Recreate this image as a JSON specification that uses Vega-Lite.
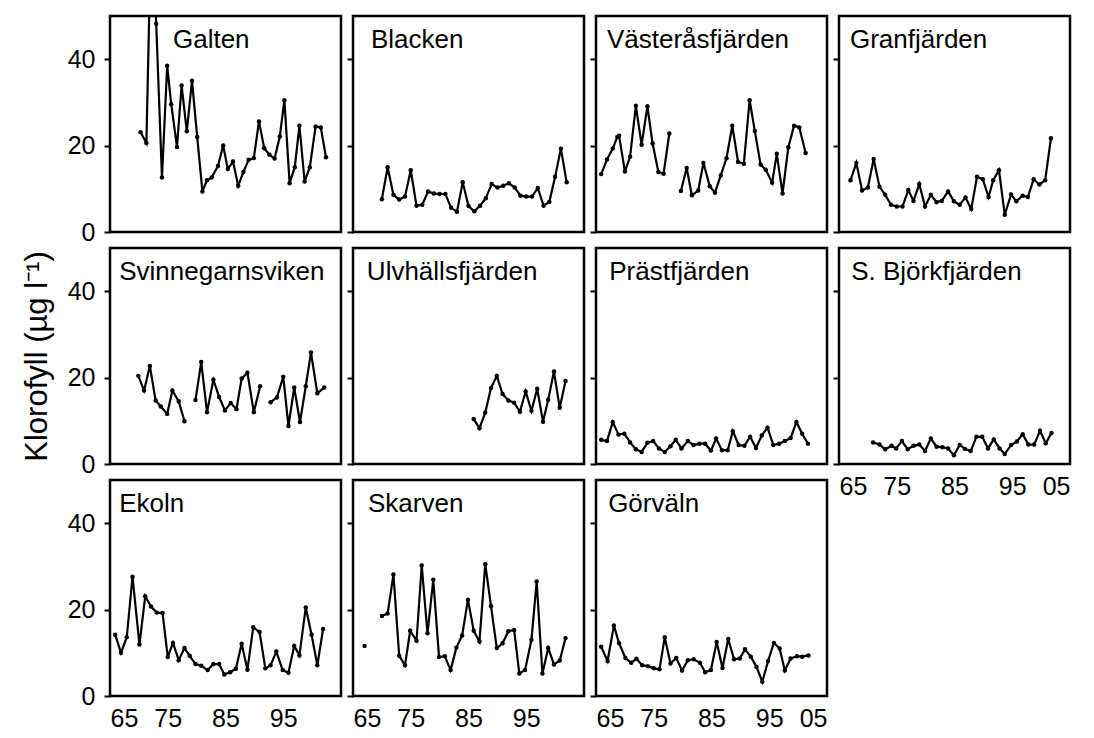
{
  "$schema": "https://vega.github.io/schema/vega-lite/v6.json",
  "background": "white",
  "padding": {"left": 19, "top": 14, "right": 5, "bottom": 5},
  "columns": 4,
  "spacing": {"row": 16, "column": 12},
  "bounds": "flush",
  "datasets": {
    "chl": [
      {"site":"Galten","year":70.3,"chl":23.1,"seg":1},{"site":"Galten","year":71.3,"chl":20.6,"seg":1},{"site":"Galten","year":72.2,"chl":75,"seg":1},{"site":"Galten","year":73.0,"chl":48.2,"seg":1},{"site":"Galten","year":74.0,"chl":12.6,"seg":1},{"site":"Galten","year":74.9,"chl":38.5,"seg":1},{"site":"Galten","year":75.6,"chl":29.6,"seg":1},{"site":"Galten","year":76.6,"chl":19.7,"seg":1},{"site":"Galten","year":77.4,"chl":33.9,"seg":1},{"site":"Galten","year":78.3,"chl":23.3,"seg":1},{"site":"Galten","year":79.2,"chl":35.0,"seg":1},{"site":"Galten","year":80.1,"chl":22.0,"seg":1},{"site":"Galten","year":81.0,"chl":9.4,"seg":1},{"site":"Galten","year":81.8,"chl":12.0,"seg":1},{"site":"Galten","year":82.6,"chl":12.6,"seg":1},{"site":"Galten","year":83.7,"chl":15.3,"seg":1},{"site":"Galten","year":84.6,"chl":20.0,"seg":1},{"site":"Galten","year":85.4,"chl":14.6,"seg":1},{"site":"Galten","year":86.3,"chl":16.3,"seg":1},{"site":"Galten","year":87.2,"chl":10.7,"seg":1},{"site":"Galten","year":88.1,"chl":13.9,"seg":1},{"site":"Galten","year":89.0,"chl":16.7,"seg":1},{"site":"Galten","year":89.9,"chl":17.1,"seg":1},{"site":"Galten","year":90.8,"chl":25.6,"seg":1},{"site":"Galten","year":91.7,"chl":19.4,"seg":1},{"site":"Galten","year":92.6,"chl":17.9,"seg":1},{"site":"Galten","year":93.5,"chl":17.0,"seg":1},{"site":"Galten","year":94.4,"chl":22.1,"seg":1},{"site":"Galten","year":95.2,"chl":30.5,"seg":1},{"site":"Galten","year":96.1,"chl":11.3,"seg":1},{"site":"Galten","year":97.0,"chl":15.0,"seg":1},{"site":"Galten","year":97.8,"chl":24.6,"seg":1},{"site":"Galten","year":98.7,"chl":11.7,"seg":1},{"site":"Galten","year":99.6,"chl":15.0,"seg":1},{"site":"Galten","year":100.6,"chl":24.4,"seg":1},{"site":"Galten","year":101.5,"chl":24.2,"seg":1},{"site":"Galten","year":102.4,"chl":17.3,"seg":1},

      {"site":"Blacken","year":70,"chl":7.6,"seg":1},{"site":"Blacken","year":71,"chl":15.0,"seg":1},{"site":"Blacken","year":72,"chl":8.6,"seg":1},{"site":"Blacken","year":73,"chl":7.5,"seg":1},{"site":"Blacken","year":74,"chl":8.2,"seg":1},{"site":"Blacken","year":75,"chl":14.3,"seg":1},{"site":"Blacken","year":76,"chl":6.1,"seg":1},{"site":"Blacken","year":77,"chl":6.3,"seg":1},{"site":"Blacken","year":78,"chl":9.4,"seg":1},{"site":"Blacken","year":79,"chl":8.9,"seg":1},{"site":"Blacken","year":80,"chl":8.8,"seg":1},{"site":"Blacken","year":81,"chl":8.8,"seg":1},{"site":"Blacken","year":82,"chl":5.6,"seg":1},{"site":"Blacken","year":83,"chl":4.7,"seg":1},{"site":"Blacken","year":84,"chl":11.5,"seg":1},{"site":"Blacken","year":85,"chl":6.0,"seg":1},{"site":"Blacken","year":86,"chl":4.8,"seg":1},{"site":"Blacken","year":87,"chl":6.1,"seg":1},{"site":"Blacken","year":88,"chl":7.8,"seg":1},{"site":"Blacken","year":89,"chl":11.1,"seg":1},{"site":"Blacken","year":90,"chl":10.3,"seg":1},{"site":"Blacken","year":91,"chl":10.7,"seg":1},{"site":"Blacken","year":92,"chl":11.3,"seg":1},{"site":"Blacken","year":93,"chl":10.3,"seg":1},{"site":"Blacken","year":94,"chl":8.4,"seg":1},{"site":"Blacken","year":95,"chl":8.2,"seg":1},{"site":"Blacken","year":96,"chl":8.2,"seg":1},{"site":"Blacken","year":97,"chl":10.2,"seg":1},{"site":"Blacken","year":98,"chl":6.1,"seg":1},{"site":"Blacken","year":99,"chl":7.0,"seg":1},{"site":"Blacken","year":100,"chl":12.8,"seg":1},{"site":"Blacken","year":101,"chl":19.3,"seg":1},{"site":"Blacken","year":102,"chl":11.5,"seg":1},

      {"site":"Västeråsfjärden","year":65.9,"chl":13.4,"seg":1},{"site":"Västeråsfjärden","year":66.9,"chl":16.8,"seg":1},{"site":"Västeråsfjärden","year":67.9,"chl":19.3,"seg":1},{"site":"Västeråsfjärden","year":68.7,"chl":22.0,"seg":1},{"site":"Västeråsfjärden","year":69.0,"chl":22.3,"seg":1},{"site":"Västeråsfjärden","year":70.0,"chl":14.0,"seg":1},{"site":"Västeråsfjärden","year":70.9,"chl":17.4,"seg":1},{"site":"Västeråsfjärden","year":71.9,"chl":29.2,"seg":1},{"site":"Västeråsfjärden","year":72.9,"chl":20.2,"seg":1},{"site":"Västeråsfjärden","year":73.9,"chl":29.1,"seg":1},{"site":"Västeråsfjärden","year":74.8,"chl":20.5,"seg":1},{"site":"Västeråsfjärden","year":75.8,"chl":13.9,"seg":1},{"site":"Västeråsfjärden","year":76.7,"chl":13.5,"seg":1},{"site":"Västeråsfjärden","year":77.7,"chl":22.8,"seg":1},
      {"site":"Västeråsfjärden","year":79.7,"chl":9.5,"seg":2},{"site":"Västeråsfjärden","year":80.7,"chl":14.8,"seg":2},{"site":"Västeråsfjärden","year":81.6,"chl":8.5,"seg":2},{"site":"Västeråsfjärden","year":82.7,"chl":9.6,"seg":2},{"site":"Västeråsfjärden","year":83.6,"chl":16.0,"seg":2},{"site":"Västeråsfjärden","year":84.7,"chl":10.6,"seg":2},{"site":"Västeråsfjärden","year":85.6,"chl":9.1,"seg":2},{"site":"Västeråsfjärden","year":86.6,"chl":13.1,"seg":2},{"site":"Västeråsfjärden","year":87.6,"chl":17.1,"seg":2},{"site":"Västeråsfjärden","year":88.6,"chl":24.6,"seg":2},{"site":"Västeråsfjärden","year":89.6,"chl":16.2,"seg":2},{"site":"Västeråsfjärden","year":90.6,"chl":15.8,"seg":2},{"site":"Västeråsfjärden","year":91.6,"chl":30.5,"seg":2},{"site":"Västeråsfjärden","year":92.5,"chl":23.4,"seg":2},{"site":"Västeråsfjärden","year":93.5,"chl":15.6,"seg":2},{"site":"Västeråsfjärden","year":94.4,"chl":14.4,"seg":2},{"site":"Västeråsfjärden","year":95.5,"chl":11.4,"seg":2},{"site":"Västeråsfjärden","year":96.3,"chl":18.1,"seg":2},{"site":"Västeråsfjärden","year":97.3,"chl":8.9,"seg":2},{"site":"Västeråsfjärden","year":98.3,"chl":19.6,"seg":2},{"site":"Västeråsfjärden","year":99.3,"chl":24.6,"seg":2},{"site":"Västeråsfjärden","year":100.2,"chl":24.2,"seg":2},{"site":"Västeråsfjärden","year":101.3,"chl":18.3,"seg":2},

      {"site":"Granfjärden","year":67.0,"chl":12.0,"seg":1},{"site":"Granfjärden","year":68.0,"chl":16.0,"seg":1},{"site":"Granfjärden","year":69.0,"chl":9.6,"seg":1},{"site":"Granfjärden","year":70.0,"chl":10.3,"seg":1},{"site":"Granfjärden","year":71.0,"chl":16.9,"seg":1},{"site":"Granfjärden","year":72.0,"chl":10.5,"seg":1},{"site":"Granfjärden","year":73.0,"chl":8.6,"seg":1},{"site":"Granfjärden","year":74.0,"chl":6.3,"seg":1},{"site":"Granfjärden","year":75.0,"chl":5.9,"seg":1},{"site":"Granfjärden","year":76.0,"chl":5.9,"seg":1},{"site":"Granfjärden","year":77.0,"chl":9.7,"seg":1},{"site":"Granfjärden","year":77.9,"chl":7.2,"seg":1},{"site":"Granfjärden","year":78.9,"chl":11.1,"seg":1},{"site":"Granfjärden","year":79.9,"chl":5.9,"seg":1},{"site":"Granfjärden","year":80.9,"chl":8.6,"seg":1},{"site":"Granfjärden","year":81.9,"chl":6.9,"seg":1},{"site":"Granfjärden","year":82.8,"chl":7.2,"seg":1},{"site":"Granfjärden","year":83.9,"chl":9.4,"seg":1},{"site":"Granfjärden","year":84.9,"chl":7.1,"seg":1},{"site":"Granfjärden","year":85.9,"chl":6.3,"seg":1},{"site":"Granfjärden","year":86.9,"chl":8.0,"seg":1},{"site":"Granfjärden","year":87.9,"chl":5.3,"seg":1},{"site":"Granfjärden","year":88.9,"chl":12.8,"seg":1},{"site":"Granfjärden","year":89.9,"chl":12.2,"seg":1},{"site":"Granfjärden","year":90.9,"chl":8.1,"seg":1},{"site":"Granfjärden","year":91.7,"chl":12.0,"seg":1},{"site":"Granfjärden","year":92.7,"chl":14.3,"seg":1},{"site":"Granfjärden","year":93.7,"chl":4.0,"seg":1},{"site":"Granfjärden","year":94.8,"chl":8.7,"seg":1},{"site":"Granfjärden","year":95.7,"chl":7.1,"seg":1},{"site":"Granfjärden","year":96.8,"chl":8.4,"seg":1},{"site":"Granfjärden","year":97.7,"chl":8.1,"seg":1},{"site":"Granfjärden","year":98.7,"chl":12.2,"seg":1},{"site":"Granfjärden","year":99.7,"chl":11.0,"seg":1},{"site":"Granfjärden","year":100.7,"chl":12.0,"seg":1},{"site":"Granfjärden","year":101.7,"chl":21.7,"seg":1},

      {"site":"Svinnegarnsviken","year":69.9,"chl":20.4,"seg":1},{"site":"Svinnegarnsviken","year":70.9,"chl":17.0,"seg":1},{"site":"Svinnegarnsviken","year":71.9,"chl":22.7,"seg":1},{"site":"Svinnegarnsviken","year":72.9,"chl":14.7,"seg":1},{"site":"Svinnegarnsviken","year":73.8,"chl":13.3,"seg":1},{"site":"Svinnegarnsviken","year":74.9,"chl":11.6,"seg":1},{"site":"Svinnegarnsviken","year":75.8,"chl":17.0,"seg":1},{"site":"Svinnegarnsviken","year":76.9,"chl":14.5,"seg":1},{"site":"Svinnegarnsviken","year":77.9,"chl":9.9,"seg":1},
      {"site":"Svinnegarnsviken","year":79.8,"chl":14.8,"seg":2},{"site":"Svinnegarnsviken","year":80.8,"chl":23.6,"seg":2},{"site":"Svinnegarnsviken","year":81.8,"chl":12.0,"seg":2},{"site":"Svinnegarnsviken","year":82.9,"chl":19.5,"seg":2},{"site":"Svinnegarnsviken","year":83.9,"chl":15.5,"seg":2},{"site":"Svinnegarnsviken","year":84.9,"chl":12.4,"seg":2},{"site":"Svinnegarnsviken","year":85.9,"chl":14.1,"seg":2},{"site":"Svinnegarnsviken","year":86.9,"chl":12.7,"seg":2},{"site":"Svinnegarnsviken","year":87.8,"chl":19.8,"seg":2},{"site":"Svinnegarnsviken","year":88.8,"chl":21.1,"seg":2},{"site":"Svinnegarnsviken","year":89.9,"chl":12.0,"seg":2},{"site":"Svinnegarnsviken","year":91.0,"chl":18.0,"seg":2},
      {"site":"Svinnegarnsviken","year":92.8,"chl":14.3,"seg":3},{"site":"Svinnegarnsviken","year":93.9,"chl":15.4,"seg":3},{"site":"Svinnegarnsviken","year":95.0,"chl":20.2,"seg":3},{"site":"Svinnegarnsviken","year":95.9,"chl":8.8,"seg":3},{"site":"Svinnegarnsviken","year":96.9,"chl":17.7,"seg":3},{"site":"Svinnegarnsviken","year":97.9,"chl":9.7,"seg":3},{"site":"Svinnegarnsviken","year":98.9,"chl":18.0,"seg":3},{"site":"Svinnegarnsviken","year":99.8,"chl":25.8,"seg":3},{"site":"Svinnegarnsviken","year":100.9,"chl":16.4,"seg":3},{"site":"Svinnegarnsviken","year":102.1,"chl":17.7,"seg":3},

      {"site":"Ulvhällsfjärden","year":85.9,"chl":10.4,"seg":1},{"site":"Ulvhällsfjärden","year":86.9,"chl":8.3,"seg":1},{"site":"Ulvhällsfjärden","year":87.9,"chl":11.9,"seg":1},{"site":"Ulvhällsfjärden","year":88.9,"chl":17.6,"seg":1},{"site":"Ulvhällsfjärden","year":89.9,"chl":20.4,"seg":1},{"site":"Ulvhällsfjärden","year":90.9,"chl":16.2,"seg":1},{"site":"Ulvhällsfjärden","year":91.9,"chl":14.7,"seg":1},{"site":"Ulvhällsfjärden","year":92.9,"chl":14.2,"seg":1},{"site":"Ulvhällsfjärden","year":93.9,"chl":12.1,"seg":1},{"site":"Ulvhällsfjärden","year":94.9,"chl":16.8,"seg":1},{"site":"Ulvhällsfjärden","year":95.9,"chl":12.3,"seg":1},{"site":"Ulvhällsfjärden","year":96.9,"chl":17.4,"seg":1},{"site":"Ulvhällsfjärden","year":97.9,"chl":9.8,"seg":1},{"site":"Ulvhällsfjärden","year":98.8,"chl":14.9,"seg":1},{"site":"Ulvhällsfjärden","year":99.8,"chl":21.4,"seg":1},{"site":"Ulvhällsfjärden","year":100.8,"chl":13.0,"seg":1},{"site":"Ulvhällsfjärden","year":101.8,"chl":19.2,"seg":1},

      {"site":"Prästfjärden","year":65.9,"chl":5.6,"seg":1},{"site":"Prästfjärden","year":66.9,"chl":5.3,"seg":1},{"site":"Prästfjärden","year":67.9,"chl":9.7,"seg":1},{"site":"Prästfjärden","year":68.9,"chl":6.8,"seg":1},{"site":"Prästfjärden","year":69.9,"chl":7.0,"seg":1},{"site":"Prästfjärden","year":70.9,"chl":5.0,"seg":1},{"site":"Prästfjärden","year":71.9,"chl":3.4,"seg":1},{"site":"Prästfjärden","year":72.9,"chl":2.8,"seg":1},{"site":"Prästfjärden","year":73.9,"chl":4.9,"seg":1},{"site":"Prästfjärden","year":74.9,"chl":5.3,"seg":1},{"site":"Prästfjärden","year":75.9,"chl":3.6,"seg":1},{"site":"Prästfjärden","year":76.9,"chl":2.8,"seg":1},{"site":"Prästfjärden","year":77.9,"chl":4.1,"seg":1},{"site":"Prästfjärden","year":78.8,"chl":5.6,"seg":1},{"site":"Prästfjärden","year":79.8,"chl":3.6,"seg":1},{"site":"Prästfjärden","year":80.9,"chl":5.3,"seg":1},{"site":"Prästfjärden","year":81.9,"chl":4.4,"seg":1},{"site":"Prästfjärden","year":82.9,"chl":4.7,"seg":1},{"site":"Prästfjärden","year":83.9,"chl":4.7,"seg":1},{"site":"Prästfjärden","year":84.9,"chl":3.1,"seg":1},{"site":"Prästfjärden","year":85.8,"chl":5.9,"seg":1},{"site":"Prästfjärden","year":86.8,"chl":3.2,"seg":1},{"site":"Prästfjärden","year":87.8,"chl":3.2,"seg":1},{"site":"Prästfjärden","year":88.7,"chl":7.6,"seg":1},{"site":"Prästfjärden","year":89.7,"chl":4.4,"seg":1},{"site":"Prästfjärden","year":90.7,"chl":4.2,"seg":1},{"site":"Prästfjärden","year":91.7,"chl":6.3,"seg":1},{"site":"Prästfjärden","year":92.7,"chl":3.7,"seg":1},{"site":"Prästfjärden","year":93.7,"chl":6.6,"seg":1},{"site":"Prästfjärden","year":94.7,"chl":8.4,"seg":1},{"site":"Prästfjärden","year":95.7,"chl":4.4,"seg":1},{"site":"Prästfjärden","year":96.7,"chl":4.7,"seg":1},{"site":"Prästfjärden","year":97.7,"chl":5.3,"seg":1},{"site":"Prästfjärden","year":98.7,"chl":6.0,"seg":1},{"site":"Prästfjärden","year":99.7,"chl":9.7,"seg":1},{"site":"Prästfjärden","year":100.7,"chl":7.0,"seg":1},{"site":"Prästfjärden","year":101.7,"chl":4.7,"seg":1},

      {"site":"S. Björkfjärden","year":70.9,"chl":5.0,"seg":1},{"site":"S. Björkfjärden","year":72.0,"chl":4.5,"seg":1},{"site":"S. Björkfjärden","year":73.0,"chl":3.4,"seg":1},{"site":"S. Björkfjärden","year":74.1,"chl":4.2,"seg":1},{"site":"S. Björkfjärden","year":74.9,"chl":3.6,"seg":1},{"site":"S. Björkfjärden","year":75.9,"chl":5.3,"seg":1},{"site":"S. Björkfjärden","year":76.9,"chl":3.4,"seg":1},{"site":"S. Björkfjärden","year":77.9,"chl":4.2,"seg":1},{"site":"S. Björkfjärden","year":78.9,"chl":4.5,"seg":1},{"site":"S. Björkfjärden","year":79.9,"chl":3.0,"seg":1},{"site":"S. Björkfjärden","year":80.9,"chl":5.9,"seg":1},{"site":"S. Björkfjärden","year":81.9,"chl":4.0,"seg":1},{"site":"S. Björkfjärden","year":82.9,"chl":3.9,"seg":1},{"site":"S. Björkfjärden","year":83.9,"chl":3.6,"seg":1},{"site":"S. Björkfjärden","year":84.9,"chl":2.0,"seg":1},{"site":"S. Björkfjärden","year":85.9,"chl":4.4,"seg":1},{"site":"S. Björkfjärden","year":86.8,"chl":3.5,"seg":1},{"site":"S. Björkfjärden","year":87.8,"chl":3.0,"seg":1},{"site":"S. Björkfjärden","year":88.8,"chl":6.3,"seg":1},{"site":"S. Björkfjärden","year":89.8,"chl":6.3,"seg":1},{"site":"S. Björkfjärden","year":90.8,"chl":3.6,"seg":1},{"site":"S. Björkfjärden","year":91.8,"chl":5.7,"seg":1},{"site":"S. Björkfjärden","year":92.8,"chl":3.6,"seg":1},{"site":"S. Björkfjärden","year":93.7,"chl":2.3,"seg":1},{"site":"S. Björkfjärden","year":94.8,"chl":4.4,"seg":1},{"site":"S. Björkfjärden","year":95.8,"chl":5.2,"seg":1},{"site":"S. Björkfjärden","year":96.8,"chl":6.9,"seg":1},{"site":"S. Björkfjärden","year":97.8,"chl":4.5,"seg":1},{"site":"S. Björkfjärden","year":98.8,"chl":4.5,"seg":1},{"site":"S. Björkfjärden","year":99.8,"chl":7.7,"seg":1},{"site":"S. Björkfjärden","year":100.8,"chl":4.8,"seg":1},{"site":"S. Björkfjärden","year":101.8,"chl":7.2,"seg":1},

      {"site":"Ekoln","year":65.9,"chl":14.2,"seg":1},{"site":"Ekoln","year":66.9,"chl":10.0,"seg":1},{"site":"Ekoln","year":67.9,"chl":13.6,"seg":1},{"site":"Ekoln","year":68.9,"chl":27.6,"seg":1},{"site":"Ekoln","year":70.1,"chl":11.9,"seg":1},{"site":"Ekoln","year":71.1,"chl":23.1,"seg":1},{"site":"Ekoln","year":72.1,"chl":20.7,"seg":1},{"site":"Ekoln","year":73.1,"chl":19.3,"seg":1},{"site":"Ekoln","year":74.1,"chl":19.2,"seg":1},{"site":"Ekoln","year":75.0,"chl":9.0,"seg":1},{"site":"Ekoln","year":75.9,"chl":12.3,"seg":1},{"site":"Ekoln","year":76.9,"chl":8.3,"seg":1},{"site":"Ekoln","year":77.9,"chl":11.1,"seg":1},{"site":"Ekoln","year":78.8,"chl":9.3,"seg":1},{"site":"Ekoln","year":79.8,"chl":7.4,"seg":1},{"site":"Ekoln","year":80.8,"chl":7.0,"seg":1},{"site":"Ekoln","year":81.9,"chl":6.0,"seg":1},{"site":"Ekoln","year":82.9,"chl":7.4,"seg":1},{"site":"Ekoln","year":83.9,"chl":7.4,"seg":1},{"site":"Ekoln","year":84.8,"chl":5.0,"seg":1},{"site":"Ekoln","year":85.8,"chl":5.5,"seg":1},{"site":"Ekoln","year":86.8,"chl":6.3,"seg":1},{"site":"Ekoln","year":87.8,"chl":12.1,"seg":1},{"site":"Ekoln","year":88.8,"chl":6.1,"seg":1},{"site":"Ekoln","year":89.8,"chl":15.9,"seg":1},{"site":"Ekoln","year":90.9,"chl":14.8,"seg":1},{"site":"Ekoln","year":91.9,"chl":6.4,"seg":1},{"site":"Ekoln","year":92.8,"chl":7.1,"seg":1},{"site":"Ekoln","year":93.8,"chl":10.3,"seg":1},{"site":"Ekoln","year":94.9,"chl":6.0,"seg":1},{"site":"Ekoln","year":95.9,"chl":5.4,"seg":1},{"site":"Ekoln","year":96.9,"chl":11.6,"seg":1},{"site":"Ekoln","year":97.8,"chl":9.4,"seg":1},{"site":"Ekoln","year":98.9,"chl":20.5,"seg":1},{"site":"Ekoln","year":99.9,"chl":14.2,"seg":1},{"site":"Ekoln","year":100.9,"chl":7.1,"seg":1},{"site":"Ekoln","year":101.9,"chl":15.5,"seg":1},

      {"site":"Skarven","year":67.0,"chl":11.6,"seg":1},
      {"site":"Skarven","year":70.0,"chl":18.5,"seg":2},{"site":"Skarven","year":71.0,"chl":19.1,"seg":2},{"site":"Skarven","year":72.0,"chl":28.1,"seg":2},{"site":"Skarven","year":73.0,"chl":9.3,"seg":2},{"site":"Skarven","year":74.0,"chl":7.1,"seg":2},{"site":"Skarven","year":74.9,"chl":15.1,"seg":2},{"site":"Skarven","year":76.0,"chl":12.8,"seg":2},{"site":"Skarven","year":76.9,"chl":30.2,"seg":2},{"site":"Skarven","year":77.9,"chl":14.5,"seg":2},{"site":"Skarven","year":78.9,"chl":26.9,"seg":2},{"site":"Skarven","year":79.9,"chl":9.0,"seg":2},{"site":"Skarven","year":80.9,"chl":9.2,"seg":2},{"site":"Skarven","year":81.9,"chl":6.0,"seg":2},{"site":"Skarven","year":82.9,"chl":11.2,"seg":2},{"site":"Skarven","year":83.9,"chl":14.0,"seg":2},{"site":"Skarven","year":84.9,"chl":22.3,"seg":2},{"site":"Skarven","year":85.9,"chl":15.1,"seg":2},{"site":"Skarven","year":86.9,"chl":12.6,"seg":2},{"site":"Skarven","year":87.9,"chl":30.5,"seg":2},{"site":"Skarven","year":88.9,"chl":20.8,"seg":2},{"site":"Skarven","year":89.9,"chl":11.1,"seg":2},{"site":"Skarven","year":90.9,"chl":12.2,"seg":2},{"site":"Skarven","year":91.9,"chl":15.0,"seg":2},{"site":"Skarven","year":92.9,"chl":15.3,"seg":2},{"site":"Skarven","year":93.8,"chl":5.2,"seg":2},{"site":"Skarven","year":94.8,"chl":6.0,"seg":2},{"site":"Skarven","year":95.9,"chl":13.0,"seg":2},{"site":"Skarven","year":96.8,"chl":26.5,"seg":2},{"site":"Skarven","year":97.8,"chl":5.2,"seg":2},{"site":"Skarven","year":98.8,"chl":11.1,"seg":2},{"site":"Skarven","year":99.8,"chl":7.3,"seg":2},{"site":"Skarven","year":100.8,"chl":8.2,"seg":2},{"site":"Skarven","year":101.8,"chl":13.4,"seg":2},

      {"site":"Görväln","year":65.9,"chl":11.4,"seg":1},{"site":"Görväln","year":67.0,"chl":8.1,"seg":1},{"site":"Görväln","year":68.1,"chl":16.3,"seg":1},{"site":"Görväln","year":69.0,"chl":12.2,"seg":1},{"site":"Görväln","year":70.1,"chl":8.8,"seg":1},{"site":"Görväln","year":71.1,"chl":7.7,"seg":1},{"site":"Görväln","year":72.0,"chl":8.6,"seg":1},{"site":"Görväln","year":73.0,"chl":7.1,"seg":1},{"site":"Görväln","year":74.0,"chl":6.9,"seg":1},{"site":"Görväln","year":75.0,"chl":6.4,"seg":1},{"site":"Görväln","year":76.0,"chl":6.2,"seg":1},{"site":"Görväln","year":76.9,"chl":13.6,"seg":1},{"site":"Görväln","year":77.9,"chl":7.5,"seg":1},{"site":"Görväln","year":78.9,"chl":8.8,"seg":1},{"site":"Görväln","year":79.9,"chl":5.9,"seg":1},{"site":"Görväln","year":80.9,"chl":8.3,"seg":1},{"site":"Görväln","year":81.9,"chl":8.5,"seg":1},{"site":"Görväln","year":83.0,"chl":7.7,"seg":1},{"site":"Görväln","year":83.9,"chl":5.5,"seg":1},{"site":"Görväln","year":84.9,"chl":6.0,"seg":1},{"site":"Görväln","year":85.9,"chl":12.5,"seg":1},{"site":"Görväln","year":86.9,"chl":6.5,"seg":1},{"site":"Görväln","year":87.9,"chl":13.2,"seg":1},{"site":"Görväln","year":88.9,"chl":8.5,"seg":1},{"site":"Görväln","year":89.9,"chl":8.7,"seg":1},{"site":"Görväln","year":90.8,"chl":10.8,"seg":1},{"site":"Görväln","year":91.8,"chl":9.1,"seg":1},{"site":"Görväln","year":92.8,"chl":6.7,"seg":1},{"site":"Görväln","year":93.8,"chl":3.3,"seg":1},{"site":"Görväln","year":94.8,"chl":8.1,"seg":1},{"site":"Görväln","year":95.8,"chl":12.3,"seg":1},{"site":"Görväln","year":96.8,"chl":11.0,"seg":1},{"site":"Görväln","year":97.7,"chl":5.9,"seg":1},{"site":"Görväln","year":98.7,"chl":8.7,"seg":1},{"site":"Görväln","year":99.8,"chl":9.2,"seg":1},{"site":"Görväln","year":100.7,"chl":9.1,"seg":1},{"site":"Görväln","year":101.8,"chl":9.4,"seg":1}
    ],
    "labels": [
      {"site":"Galten","lx":75.9,"ly":42.7},
      {"site":"Blacken","lx":68.1,"ly":42.7},
      {"site":"Västeråsfjärden","lx":66.9,"ly":42.7},
      {"site":"Granfjärden","lx":66.9,"ly":42.7},
      {"site":"Svinnegarnsviken","lx":66.6,"ly":42.7},
      {"site":"Ulvhällsfjärden","lx":67.4,"ly":42.7},
      {"site":"Prästfjärden","lx":67.3,"ly":42.7},
      {"site":"S. Björkfjärden","lx":67.1,"ly":42.7},
      {"site":"Ekoln","lx":66.6,"ly":42.7},
      {"site":"Skarven","lx":67.6,"ly":42.7},
      {"site":"Görväln","lx":67.1,"ly":42.7}
    ]
  },
  "concat": [
    {"width":231,"height":216,"layer":[
      {"data":{"name":"chl"},"transform":[{"filter":"datum.site === 'Galten'"}],"mark":{"type":"line","color":"black","strokeWidth":2.2,"clip":true},"encoding":{"x":{"field":"year","type":"quantitative","scale":{"domain":[65,105],"nice":false,"zero":false},"axis":null},"y":{"field":"chl","type":"quantitative","scale":{"domain":[0,50],"nice":false},"axis":{"values":[0,20,40],"title":null}},"detail":{"field":"seg"}}},
      {"data":{"name":"chl"},"transform":[{"filter":"datum.site === 'Galten'"}],"mark":{"type":"point","filled":true,"color":"black","size":20,"opacity":1,"clip":true},"encoding":{"x":{"field":"year","type":"quantitative"},"y":{"field":"chl","type":"quantitative"}}},
      {"data":{"name":"labels"},"transform":[{"filter":"datum.site === 'Galten'"}],"mark":{"type":"text","align":"left","baseline":"alphabetic","fontSize":26,"font":"Liberation Sans","color":"black"},"encoding":{"x":{"field":"lx","type":"quantitative"},"y":{"field":"ly","type":"quantitative"},"text":{"field":"site"}}}
    ]},
    {"width":231,"height":216,"layer":[
      {"data":{"name":"chl"},"transform":[{"filter":"datum.site === 'Blacken'"}],"mark":{"type":"line","color":"black","strokeWidth":2.2,"clip":true},"encoding":{"x":{"field":"year","type":"quantitative","scale":{"domain":[65,105],"nice":false,"zero":false},"axis":null},"y":{"field":"chl","type":"quantitative","scale":{"domain":[0,50],"nice":false},"axis":{"values":[0,20,40],"title":null,"labels":false}},"detail":{"field":"seg"}}},
      {"data":{"name":"chl"},"transform":[{"filter":"datum.site === 'Blacken'"}],"mark":{"type":"point","filled":true,"color":"black","size":20,"opacity":1,"clip":true},"encoding":{"x":{"field":"year","type":"quantitative"},"y":{"field":"chl","type":"quantitative"}}},
      {"data":{"name":"labels"},"transform":[{"filter":"datum.site === 'Blacken'"}],"mark":{"type":"text","align":"left","baseline":"alphabetic","fontSize":26,"font":"Liberation Sans","color":"black"},"encoding":{"x":{"field":"lx","type":"quantitative"},"y":{"field":"ly","type":"quantitative"},"text":{"field":"site"}}}
    ]},
    {"width":231,"height":216,"layer":[
      {"data":{"name":"chl"},"transform":[{"filter":"datum.site === 'Västeråsfjärden'"}],"mark":{"type":"line","color":"black","strokeWidth":2.2,"clip":true},"encoding":{"x":{"field":"year","type":"quantitative","scale":{"domain":[65,105],"nice":false,"zero":false},"axis":null},"y":{"field":"chl","type":"quantitative","scale":{"domain":[0,50],"nice":false},"axis":{"values":[0,20,40],"title":null,"labels":false}},"detail":{"field":"seg"}}},
      {"data":{"name":"chl"},"transform":[{"filter":"datum.site === 'Västeråsfjärden'"}],"mark":{"type":"point","filled":true,"color":"black","size":20,"opacity":1,"clip":true},"encoding":{"x":{"field":"year","type":"quantitative"},"y":{"field":"chl","type":"quantitative"}}},
      {"data":{"name":"labels"},"transform":[{"filter":"datum.site === 'Västeråsfjärden'"}],"mark":{"type":"text","align":"left","baseline":"alphabetic","fontSize":26,"font":"Liberation Sans","color":"black"},"encoding":{"x":{"field":"lx","type":"quantitative"},"y":{"field":"ly","type":"quantitative"},"text":{"field":"site"}}}
    ]},
    {"width":231,"height":216,"layer":[
      {"data":{"name":"chl"},"transform":[{"filter":"datum.site === 'Granfjärden'"}],"mark":{"type":"line","color":"black","strokeWidth":2.2,"clip":true},"encoding":{"x":{"field":"year","type":"quantitative","scale":{"domain":[65,105],"nice":false,"zero":false},"axis":null},"y":{"field":"chl","type":"quantitative","scale":{"domain":[0,50],"nice":false},"axis":{"values":[0,20,40],"title":null,"labels":false}},"detail":{"field":"seg"}}},
      {"data":{"name":"chl"},"transform":[{"filter":"datum.site === 'Granfjärden'"}],"mark":{"type":"point","filled":true,"color":"black","size":20,"opacity":1,"clip":true},"encoding":{"x":{"field":"year","type":"quantitative"},"y":{"field":"chl","type":"quantitative"}}},
      {"data":{"name":"labels"},"transform":[{"filter":"datum.site === 'Granfjärden'"}],"mark":{"type":"text","align":"left","baseline":"alphabetic","fontSize":26,"font":"Liberation Sans","color":"black"},"encoding":{"x":{"field":"lx","type":"quantitative"},"y":{"field":"ly","type":"quantitative"},"text":{"field":"site"}}}
    ]},
    {"width":231,"height":216,"layer":[
      {"data":{"name":"chl"},"transform":[{"filter":"datum.site === 'Svinnegarnsviken'"}],"mark":{"type":"line","color":"black","strokeWidth":2.2,"clip":true},"encoding":{"x":{"field":"year","type":"quantitative","scale":{"domain":[65,105],"nice":false,"zero":false},"axis":null},"y":{"field":"chl","type":"quantitative","scale":{"domain":[0,50],"nice":false},"axis":{"values":[0,20,40],"title":"Klorofyll (µg l⁻¹)"}},"detail":{"field":"seg"}}},
      {"data":{"name":"chl"},"transform":[{"filter":"datum.site === 'Svinnegarnsviken'"}],"mark":{"type":"point","filled":true,"color":"black","size":20,"opacity":1,"clip":true},"encoding":{"x":{"field":"year","type":"quantitative"},"y":{"field":"chl","type":"quantitative"}}},
      {"data":{"name":"labels"},"transform":[{"filter":"datum.site === 'Svinnegarnsviken'"}],"mark":{"type":"text","align":"left","baseline":"alphabetic","fontSize":26,"font":"Liberation Sans","color":"black"},"encoding":{"x":{"field":"lx","type":"quantitative"},"y":{"field":"ly","type":"quantitative"},"text":{"field":"site"}}}
    ]},
    {"width":231,"height":216,"layer":[
      {"data":{"name":"chl"},"transform":[{"filter":"datum.site === 'Ulvhällsfjärden'"}],"mark":{"type":"line","color":"black","strokeWidth":2.2,"clip":true},"encoding":{"x":{"field":"year","type":"quantitative","scale":{"domain":[65,105],"nice":false,"zero":false},"axis":null},"y":{"field":"chl","type":"quantitative","scale":{"domain":[0,50],"nice":false},"axis":{"values":[0,20,40],"title":null,"labels":false}},"detail":{"field":"seg"}}},
      {"data":{"name":"chl"},"transform":[{"filter":"datum.site === 'Ulvhällsfjärden'"}],"mark":{"type":"point","filled":true,"color":"black","size":20,"opacity":1,"clip":true},"encoding":{"x":{"field":"year","type":"quantitative"},"y":{"field":"chl","type":"quantitative"}}},
      {"data":{"name":"labels"},"transform":[{"filter":"datum.site === 'Ulvhällsfjärden'"}],"mark":{"type":"text","align":"left","baseline":"alphabetic","fontSize":26,"font":"Liberation Sans","color":"black"},"encoding":{"x":{"field":"lx","type":"quantitative"},"y":{"field":"ly","type":"quantitative"},"text":{"field":"site"}}}
    ]},
    {"width":231,"height":216,"layer":[
      {"data":{"name":"chl"},"transform":[{"filter":"datum.site === 'Prästfjärden'"}],"mark":{"type":"line","color":"black","strokeWidth":2.2,"clip":true},"encoding":{"x":{"field":"year","type":"quantitative","scale":{"domain":[65,105],"nice":false,"zero":false},"axis":null},"y":{"field":"chl","type":"quantitative","scale":{"domain":[0,50],"nice":false},"axis":{"values":[0,20,40],"title":null,"labels":false}},"detail":{"field":"seg"}}},
      {"data":{"name":"chl"},"transform":[{"filter":"datum.site === 'Prästfjärden'"}],"mark":{"type":"point","filled":true,"color":"black","size":20,"opacity":1,"clip":true},"encoding":{"x":{"field":"year","type":"quantitative"},"y":{"field":"chl","type":"quantitative"}}},
      {"data":{"name":"labels"},"transform":[{"filter":"datum.site === 'Prästfjärden'"}],"mark":{"type":"text","align":"left","baseline":"alphabetic","fontSize":26,"font":"Liberation Sans","color":"black"},"encoding":{"x":{"field":"lx","type":"quantitative"},"y":{"field":"ly","type":"quantitative"},"text":{"field":"site"}}}
    ]},
    {"width":231,"height":216,"layer":[
      {"data":{"name":"chl"},"transform":[{"filter":"datum.site === 'S. Björkfjärden'"}],"mark":{"type":"line","color":"black","strokeWidth":2.2,"clip":true},"encoding":{"x":{"field":"year","type":"quantitative","scale":{"domain":[65,105],"nice":false,"zero":false},"axis":{"values":[65,75,85,95,105],"labelExpr":"datum.value == 105 ? '05' : datum.label","title":null}},"y":{"field":"chl","type":"quantitative","scale":{"domain":[0,50],"nice":false},"axis":{"values":[0,20,40],"title":null,"labels":false}},"detail":{"field":"seg"}}},
      {"data":{"name":"chl"},"transform":[{"filter":"datum.site === 'S. Björkfjärden'"}],"mark":{"type":"point","filled":true,"color":"black","size":20,"opacity":1,"clip":true},"encoding":{"x":{"field":"year","type":"quantitative"},"y":{"field":"chl","type":"quantitative"}}},
      {"data":{"name":"labels"},"transform":[{"filter":"datum.site === 'S. Björkfjärden'"}],"mark":{"type":"text","align":"left","baseline":"alphabetic","fontSize":26,"font":"Liberation Sans","color":"black"},"encoding":{"x":{"field":"lx","type":"quantitative"},"y":{"field":"ly","type":"quantitative"},"text":{"field":"site"}}}
    ]},
    {"width":231,"height":216,"layer":[
      {"data":{"name":"chl"},"transform":[{"filter":"datum.site === 'Ekoln'"}],"mark":{"type":"line","color":"black","strokeWidth":2.2,"clip":true},"encoding":{"x":{"field":"year","type":"quantitative","scale":{"domain":[65,105],"nice":false,"zero":false},"axis":{"values":[65,75,85,95],"title":null}},"y":{"field":"chl","type":"quantitative","scale":{"domain":[0,50],"nice":false},"axis":{"values":[0,20,40],"title":null}},"detail":{"field":"seg"}}},
      {"data":{"name":"chl"},"transform":[{"filter":"datum.site === 'Ekoln'"}],"mark":{"type":"point","filled":true,"color":"black","size":20,"opacity":1,"clip":true},"encoding":{"x":{"field":"year","type":"quantitative"},"y":{"field":"chl","type":"quantitative"}}},
      {"data":{"name":"labels"},"transform":[{"filter":"datum.site === 'Ekoln'"}],"mark":{"type":"text","align":"left","baseline":"alphabetic","fontSize":26,"font":"Liberation Sans","color":"black"},"encoding":{"x":{"field":"lx","type":"quantitative"},"y":{"field":"ly","type":"quantitative"},"text":{"field":"site"}}}
    ]},
    {"width":231,"height":216,"layer":[
      {"data":{"name":"chl"},"transform":[{"filter":"datum.site === 'Skarven'"}],"mark":{"type":"line","color":"black","strokeWidth":2.2,"clip":true},"encoding":{"x":{"field":"year","type":"quantitative","scale":{"domain":[65,105],"nice":false,"zero":false},"axis":{"values":[65,75,85,95],"title":null}},"y":{"field":"chl","type":"quantitative","scale":{"domain":[0,50],"nice":false},"axis":{"values":[0,20,40],"title":null,"labels":false}},"detail":{"field":"seg"}}},
      {"data":{"name":"chl"},"transform":[{"filter":"datum.site === 'Skarven'"}],"mark":{"type":"point","filled":true,"color":"black","size":20,"opacity":1,"clip":true},"encoding":{"x":{"field":"year","type":"quantitative"},"y":{"field":"chl","type":"quantitative"}}},
      {"data":{"name":"labels"},"transform":[{"filter":"datum.site === 'Skarven'"}],"mark":{"type":"text","align":"left","baseline":"alphabetic","fontSize":26,"font":"Liberation Sans","color":"black"},"encoding":{"x":{"field":"lx","type":"quantitative"},"y":{"field":"ly","type":"quantitative"},"text":{"field":"site"}}}
    ]},
    {"width":231,"height":216,"layer":[
      {"data":{"name":"chl"},"transform":[{"filter":"datum.site === 'Görväln'"}],"mark":{"type":"line","color":"black","strokeWidth":2.2,"clip":true},"encoding":{"x":{"field":"year","type":"quantitative","scale":{"domain":[65,105],"nice":false,"zero":false},"axis":{"values":[65,75,85,95,105],"labelExpr":"datum.value == 105 ? '05' : datum.label","title":null}},"y":{"field":"chl","type":"quantitative","scale":{"domain":[0,50],"nice":false},"axis":{"values":[0,20,40],"title":null,"labels":false}},"detail":{"field":"seg"}}},
      {"data":{"name":"chl"},"transform":[{"filter":"datum.site === 'Görväln'"}],"mark":{"type":"point","filled":true,"color":"black","size":20,"opacity":1,"clip":true},"encoding":{"x":{"field":"year","type":"quantitative"},"y":{"field":"chl","type":"quantitative"}}},
      {"data":{"name":"labels"},"transform":[{"filter":"datum.site === 'Görväln'"}],"mark":{"type":"text","align":"left","baseline":"alphabetic","fontSize":26,"font":"Liberation Sans","color":"black"},"encoding":{"x":{"field":"lx","type":"quantitative"},"y":{"field":"ly","type":"quantitative"},"text":{"field":"site"}}}
    ]}
  ],
  "config": {
    "view": {"stroke": "black", "strokeWidth": 2.5, "fill": "white"},
    "font": "Liberation Sans",
    "axis": {"domain": false, "grid": false, "tickColor": "black", "tickWidth": 2, "labelColor": "black", "labelFont": "Liberation Sans", "labelFontSize": 25, "titleFont": "Liberation Sans", "titleFontWeight": "normal", "titleColor": "black", "titleFontSize": 31},
    "axisY": {"tickSize": 6, "labelPadding": 9, "titlePadding": 14},
    "axisX": {"ticks": false, "labelPadding": 10, "labelOverlap": false}
  }
}
